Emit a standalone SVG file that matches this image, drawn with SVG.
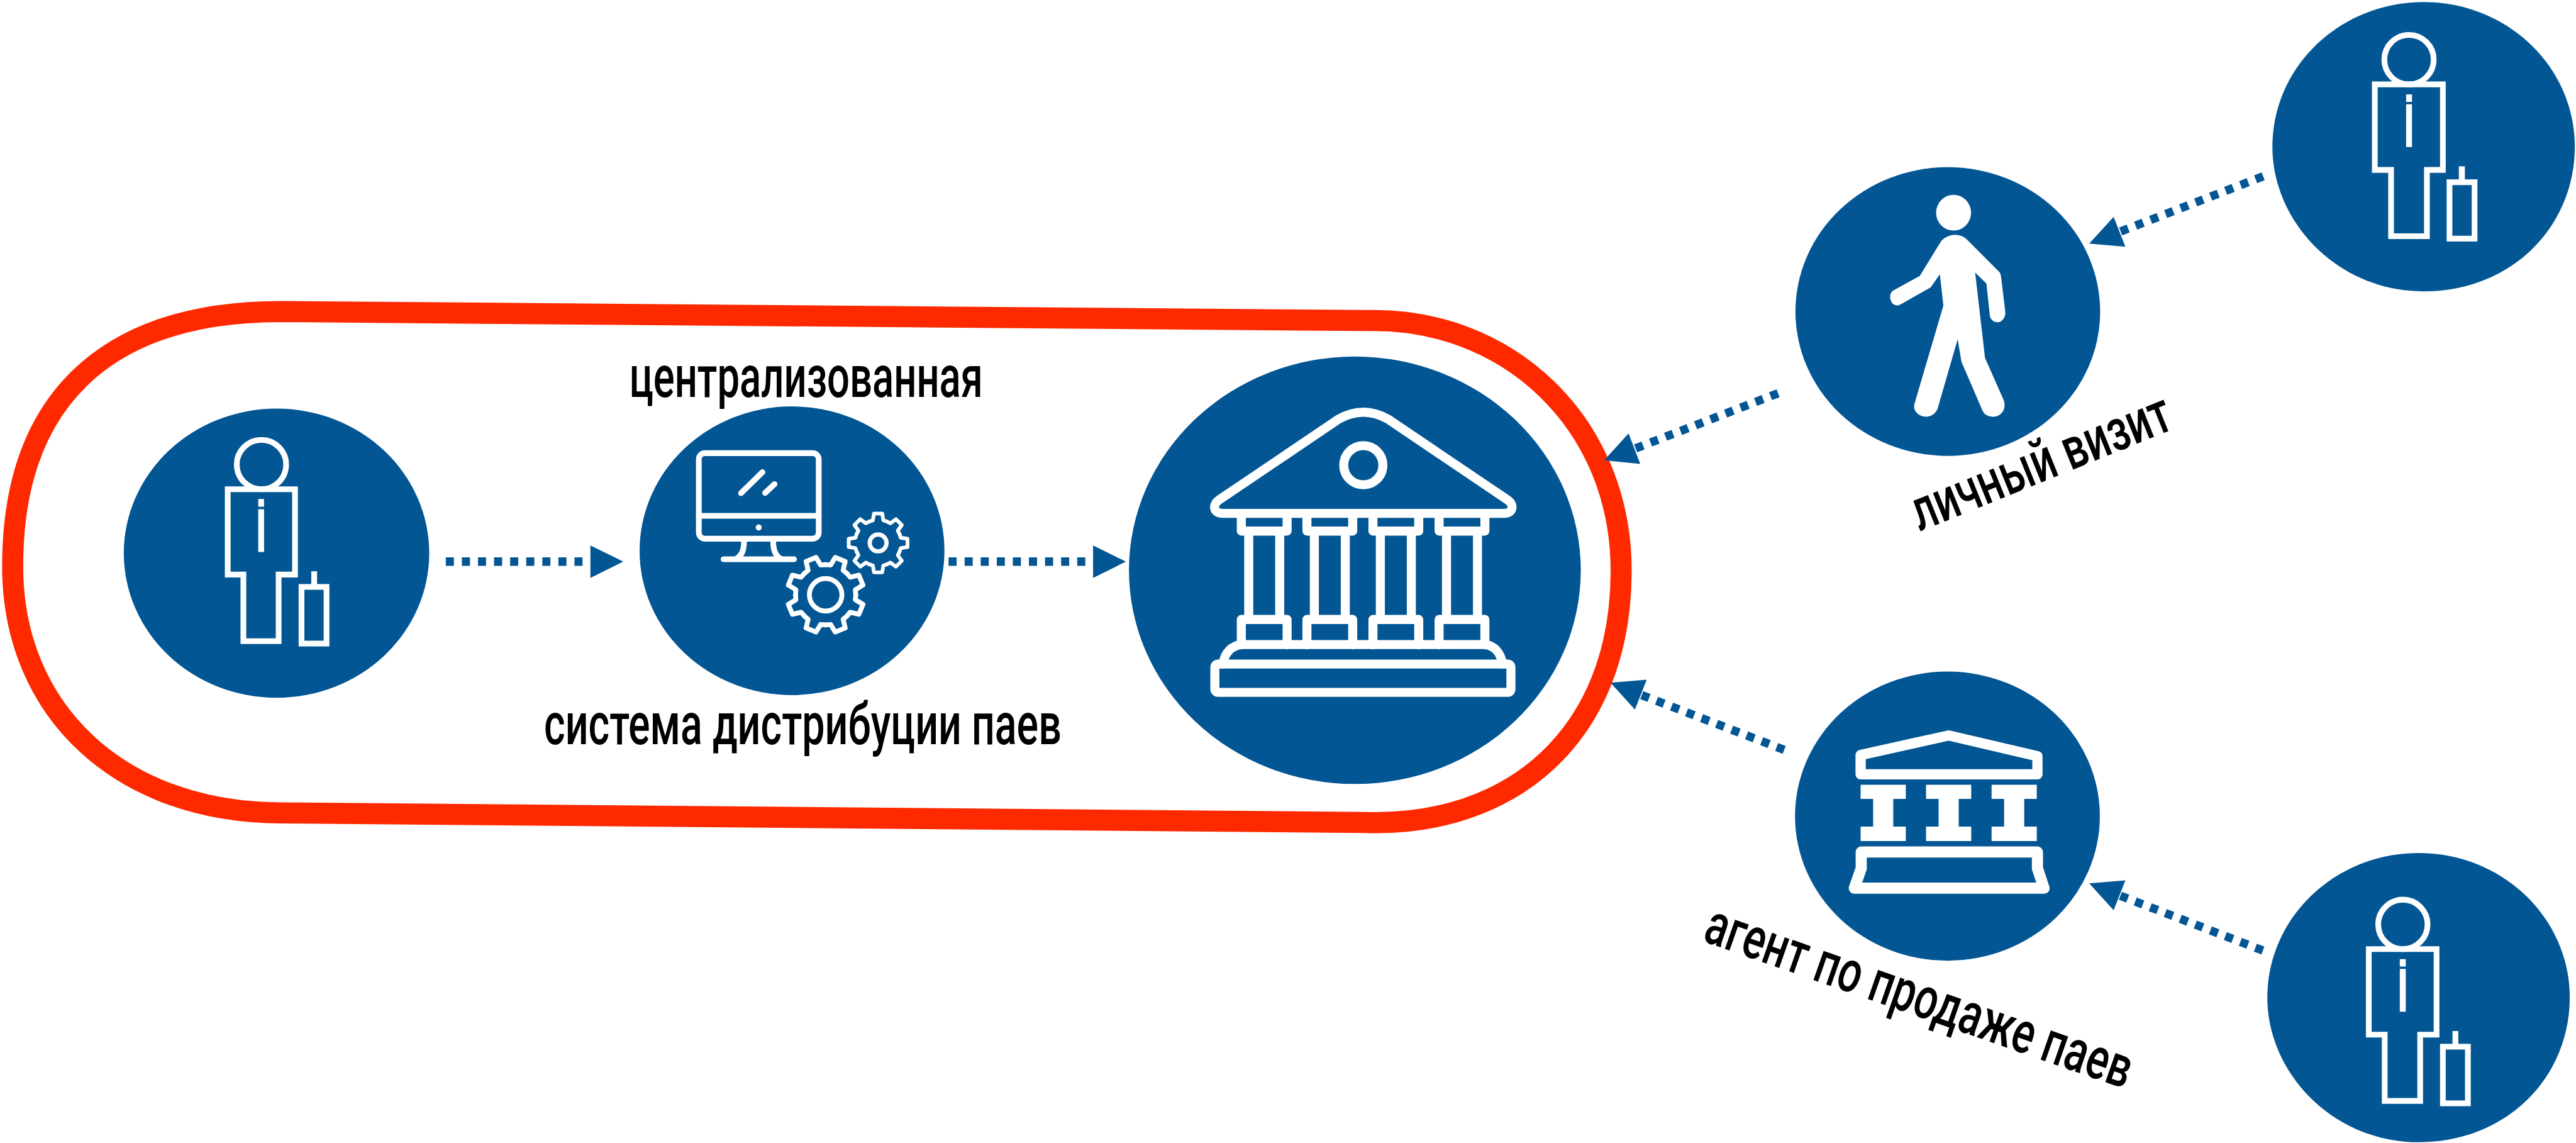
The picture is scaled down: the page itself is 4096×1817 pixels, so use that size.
<svg xmlns="http://www.w3.org/2000/svg" xmlns:xlink="http://www.w3.org/1999/xlink" width="4096" height="1817" viewBox="0 0 4096 1817">
<style>
.disc{fill:#035694}
.ln{fill:none;stroke:#fff;stroke-width:9.5}
.ic{fill:none;stroke:#fff;stroke-width:15;stroke-linejoin:round;stroke-linecap:round}
.gear{fill:none;stroke:#fff;stroke-width:8;stroke-linejoin:round;stroke-linecap:round}
.wf{fill:#fff}
.dash{fill:none;stroke:#035694;stroke-width:14;stroke-dasharray:13.4 13.3}
.head{fill:#035694}
.t{font-family:"Roboto","Liberation Sans",sans-serif;font-size:97px;font-weight:500;fill:#000}
</style>
<defs>
<path id="blob" d="M3772 243.5C3772 111 3884 3.5 4023 3.5C4162 3.5 4274 111 4274 243.5C4274 375 4170 483.5 4023 483.5C3880 483.5 3772 368 3772 243.5Z"/>
<g id="col">
<path d="M-38 852V881.3H38V852M-25.7 881.3V1028M25.7 881.3V1028M-38 1070V1028H38V1070"/>
</g>
<path id="tooth" d="M-19.13-46.19L-11.25-48.72L-8.91-63.38L8.91-63.38L11.25-48.72L19.13-46.19"/>
<g id="gear8">
<use xlink:href="#tooth" href="#tooth"/>
<use xlink:href="#tooth" href="#tooth" transform="rotate(45)"/>
<use xlink:href="#tooth" href="#tooth" transform="rotate(90)"/>
<use xlink:href="#tooth" href="#tooth" transform="rotate(135)"/>
<use xlink:href="#tooth" href="#tooth" transform="rotate(180)"/>
<use xlink:href="#tooth" href="#tooth" transform="rotate(225)"/>
<use xlink:href="#tooth" href="#tooth" transform="rotate(270)"/>
<use xlink:href="#tooth" href="#tooth" transform="rotate(315)"/>
</g>
<path id="pillar" d="M-37.5 0H37.5V23.4H16.7V69.4H37.5V93.3H-37.5V69.4H-16.7V23.4H-37.5Z"/>
</defs>
<g transform="scale(0.95791)">
<g id="outline"><path fill="none" stroke="#FF2900" stroke-width="35" d="M467 517L2267 532C2500 525 2691 700 2691 947C2691 1220 2510 1372 2267 1365L467 1349C200 1349 21 1180 21 940C21 670 170 517 467 517Z"/></g>

<g id="client-left">
<ellipse class="disc" cx="459" cy="918" rx="253.5" ry="240"/>
<ellipse class="ln" cx="434" cy="771" rx="41" ry="41"/>
<path class="ln" d="M378 812H489.7V953.5H462.5V1064H404V953.5H378Z"/>
<path class="wf" d="M428.7 828H438.3V841H428.7ZM428.7 845H438.3V916H428.7Z"/>
<rect class="ln" x="500.5" y="974" width="41.5" height="94"/>
<rect class="wf" x="516.7" y="948" width="9.6" height="22"/>
</g>

<g id="system">
<ellipse class="disc" cx="1314.7" cy="914" rx="253" ry="239.5"/>
<rect x="1160" y="752" width="199" height="142" rx="10" class="ic" style="stroke-width:9.5"/>
<path class="ic" style="stroke-width:9.5" d="M1160 856H1359M1230 818.5L1265.6 783.6M1270 818L1285.7 803.3M1201 928H1318M1235 899C1235 914 1230 924 1220 928M1283.5 899C1283.5 914 1288 924 1298 928"/>
<circle class="wf" cx="1259.4" cy="875.4" r="5"/>
<g class="gear" transform="translate(1370.5 987) rotate(22.5)"><use xlink:href="#gear8" href="#gear8"/></g>
<circle class="gear" cx="1370.5" cy="987" r="27"/>
<g class="gear" transform="translate(1457.6 901) scale(0.77)"><use xlink:href="#gear8" href="#gear8"/></g>
<circle class="gear" cx="1457.6" cy="901" r="14" style="stroke-width:7"/>
</g>

<g id="fund">
<ellipse class="disc" cx="2249" cy="946.4" rx="375" ry="354.7"/>
<path class="ic" d="M2023 830L2222 695.6Q2263 672.4 2304 695.6L2503 830C2514 838 2512 852 2496 852H2030C2014 852 2012 838 2023 830Z"/>
<circle class="ic" cx="2263" cy="772" r="32.5"/>
<g class="ic">
<use xlink:href="#col" href="#col" x="2098.5"/>
<use xlink:href="#col" href="#col" x="2207.4"/>
<use xlink:href="#col" href="#col" x="2317"/>
<use xlink:href="#col" href="#col" x="2426.8"/>
</g>
<path class="ic" d="M2030 1102C2033 1082 2045 1072 2060 1069.7H2466C2480 1072 2491 1082 2494 1102"/>
<rect class="ic" x="2016.6" y="1102" width="491.4" height="47" rx="5"/>
</g>

<g id="visit">
<ellipse class="disc" cx="3233.2" cy="517" rx="252.9" ry="239.6"/>
<ellipse class="wf" cx="3242.8" cy="353" rx="29" ry="29.7"/>
<path class="wf" d="M3246 389.7Q3258 390 3266 398.4L3319.6 452.3Q3321.5 456 3321.9 461.4L3328.6 517.4C3329.5 527 3323 534.8 3316 534.8C3309 534.8 3303.5 530 3303 523.6L3297.3 470.6L3278.6 452.3L3295 594L3326.3 664.6C3331 680 3321 691.5 3308.5 691.5C3300 691.5 3293.5 688 3290.6 681L3255.8 600.3L3249.6 563L3216 679C3212 687 3205 691.5 3196.9 691.5C3185 691.5 3175 682 3177.7 670.8L3225.9 507L3220 455.2L3204.9 476.8L3157.6 503.7C3153 506 3150 507 3150 507C3142 507 3137.5 500 3137.5 492.5C3137.5 488 3139 484.5 3142.4 482.2L3186.6 458L3221.4 401.3C3227 394 3236 389.7 3246 389.7Z"/>
</g>

<g id="agent">
<ellipse class="disc" cx="3232.6" cy="1354.4" rx="253" ry="240"/>
<path class="ic" style="stroke-width:17" d="M3088.5 1253L3234.8 1220.5L3382 1255V1285H3088.5Z"/>
<use class="wf" xlink:href="#pillar" href="#pillar" x="3126" y="1302.4"/>
<use class="wf" xlink:href="#pillar" href="#pillar" x="3234.6" y="1302.4"/>
<use class="wf" xlink:href="#pillar" href="#pillar" x="3343.4" y="1302.4"/>
<path class="ic" style="stroke-width:18.5" d="M3089.5 1414H3382V1441L3393 1474H3078L3089.5 1441Z"/>
</g>

<g id="client-top">
<use class="disc" xlink:href="#blob" href="#blob"/>
<ellipse class="ln" cx="3998.8" cy="99" rx="41" ry="41"/>
<path class="ln" d="M3942 140H4055V282H4028.5V392H3969V282H3942Z"/>
<path class="wf" d="M3994 156.7H4003.7V169H3994ZM3994 173H4003.7V244H3994Z"/>
<rect class="ln" x="4066" y="302.4" width="41.6" height="93.6"/>
<rect class="wf" x="4081.5" y="276" width="10" height="22"/>
</g>

<g id="client-bottom">
<use class="disc" xlink:href="#blob" href="#blob" x="-8.4" y="1412"/>
<ellipse class="ln" cx="3988.6" cy="1534" rx="41" ry="41"/>
<path class="ln" d="M3932 1575H4044.5V1717H4017.3V1827H3958.4V1717H3932Z"/>
<path class="wf" d="M3983.5 1591.7H3993.4V1604H3983.5ZM3983.5 1608H3993.4V1679H3983.5Z"/>
<rect class="ln" x="4055" y="1737" width="41.5" height="94"/>
<rect class="wf" x="4071" y="1711" width="9.6" height="22"/>
</g>

<g id="connectors">
<path class="dash" d="M740 932H967"/>
<polygon class="head" points="1034.6,932 980,905 980,959"/>
<path class="dash" d="M1574.5 932H1801.5"/>
<polygon class="head" points="1869,932 1814.4,905 1814.4,959"/>
<path class="dash" d="M3756.7 292.6L3520.2 384.1"/>
<polygon class="head" points="3467.9,404.2 3508.5,359.9 3528,409.6"/>
<path class="dash" d="M2951.5 652.6L2715 744.1"/>
<polygon class="head" points="2662.7,764 2703.3,719.3 2722.7,770"/>
<path class="dash" d="M3756.25 1577.4L3519.75 1486.6"/>
<polygon class="head" points="3467.9,1466 3528,1461 3508.5,1510.5"/>
<path class="dash" d="M2961.65 1244.4L2725.15 1153.6"/>
<polygon class="head" points="2673.3,1133 2733.4,1128 2713.9,1177.5"/>
</g>

<g id="labels">
<text class="t" x="1044.6" y="658.7" textLength="587" lengthAdjust="spacingAndGlyphs">централизованная</text>
<text class="t" x="903" y="1235" textLength="859" lengthAdjust="spacingAndGlyphs">система дистрибуции паев</text>
<text class="t" transform="translate(3187 882) rotate(-22)" textLength="458" lengthAdjust="spacingAndGlyphs">личный визит</text>
<text class="t" transform="translate(2824 1561) rotate(19.3)" textLength="745" lengthAdjust="spacingAndGlyphs">агент по продаже паев</text>
</g>
</g>
</svg>
